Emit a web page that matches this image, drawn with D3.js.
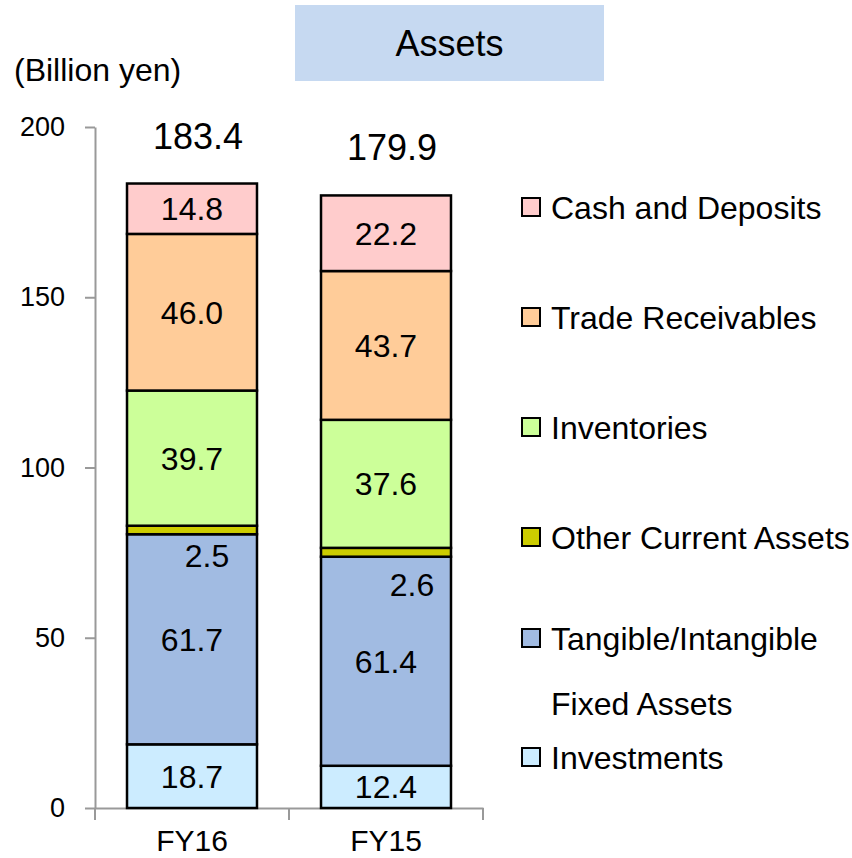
<!DOCTYPE html>
<html>
<head>
<meta charset="utf-8">
<script src="https://cdn.jsdelivr.net/npm/d3@7"></script>
<style>
  body { margin: 0; background: #fff; }
  svg { font-family: "Liberation Sans", Arial, sans-serif; }
  .axis path, .axis line { stroke: #999; stroke-width: 2; }
  .axis text { fill: #000; }
</style>
</head>
<body>
<svg id="chart" width="852" height="858"></svg>
<script>
// data (billion yen)
const categories = ["FY16", "FY15"]
const investments = [18.7, 12.4]
const tangible = [61.7, 61.4]
const otherCurrent = [2.5, 2.6]
const inventories = [39.7, 37.6]
const receivables = [46.0, 43.7]
const cash = [14.8, 22.2]
const totals = [183.4, 179.9]
const yTicks = [0, 50, 100, 150, 200]

// bottom -> top
const seriesNames = ["Investments", "Tangible/Intangible Fixed Assets", "Other Current Assets",
                     "Inventories", "Trade Receivables", "Cash and Deposits"]
const seriesValues = [investments, tangible, otherCurrent, inventories, receivables, cash]
const seriesColors = ["#CCECFF", "#A1BBE2", "#CCCC00", "#CCFF99", "#FFCC99", "#FFCCCC"]

let rows = categories.map((c, i) => {
  let r = {cat: c}
  seriesNames.forEach((n, j) => { r[n] = seriesValues[j][i] })
  return r
})

let stacked = d3.stack().keys(seriesNames)(rows)

let svg = d3.select("#chart")

let x = d3.scaleBand()
      .domain(categories)
      .range([95, 483])
      .paddingInner(0.33)
      .paddingOuter(0.165)

let y = d3.scaleLinear()
      .domain([0, 200])
      .range([808, 127])

// title box
svg.append("rect")
  .attr("x", 295).attr("y", 5)
  .attr("width", 309).attr("height", 76)
  .attr("fill", "#C6D9F1")
svg.append("text")
  .attr("x", 449.5).attr("y", 56)
  .attr("text-anchor", "middle")
  .style("font-size", "36px")
  .text("Assets")

// unit label
svg.append("text")
  .attr("x", 14).attr("y", 81)
  .style("font-size", "32px")
  .text("(Billion yen)")

// y axis
let yAxis = svg.append("g")
  .attr("class", "axis")
  .attr("transform", "translate(95,0)")
  .call(d3.axisLeft(y).tickValues(yTicks).tickSize(10).tickSizeOuter(0).tickPadding(20))
yAxis.selectAll("text").style("font-size", "27px")

// x axis
let xAxis = svg.append("g")
  .attr("class", "axis")
  .attr("transform", "translate(0,808)")
  .call(d3.axisBottom(x).tickSize(0).tickSizeOuter(0).tickPadding(22))
xAxis.selectAll("text").style("font-size", "30px")
xAxis.selectAll(".boundary")
  .data(d3.range(categories.length + 1))
  .enter().append("line")
  .attr("class", "boundary")
  .attr("x1", i => x.range()[0] + i * x.step())
  .attr("x2", i => x.range()[0] + i * x.step())
  .attr("y1", 0).attr("y2", 12)

// bars
let layers = svg.selectAll(".layer")
  .data(stacked)
  .enter().append("g")
  .attr("class", "layer")
  .attr("fill", (d, i) => seriesColors[i])

layers.selectAll("rect")
  .data(d => d)
  .enter().append("rect")
  .attr("x", d => x(d.data.cat))
  .attr("width", x.bandwidth())
  .attr("y", d => y(d[1]))
  .attr("height", d => y(d[0]) - y(d[1]))
  .attr("stroke", "#000")
  .attr("stroke-width", 2.5)

// segment labels (the thin one sits below its own segment)
const thinOffset = [{dx: 15, dy: 21}, {dx: 26, dy: 28}]
stacked.forEach((layer, j) => {
  layer.forEach((d, i) => {
    let cx = x(d.data.cat) + x.bandwidth() / 2
    let cy = (y(d[0]) + y(d[1])) / 2
    if (seriesNames[j] == "Other Current Assets") {
      cx += thinOffset[i].dx
      cy = y(d[0]) + thinOffset[i].dy
    }
    svg.append("text")
      .attr("x", cx).attr("y", cy)
      .attr("dy", "0.36em")
      .attr("text-anchor", "middle")
      .style("font-size", "32px")
      .text(d3.format(".1f")(d[1] - d[0]))
  })
})

// totals
svg.selectAll(".total")
  .data(categories)
  .enter().append("text")
  .attr("class", "total")
  .attr("x", c => x(c) + x.bandwidth() / 2 + 6)
  .attr("y", (c, i) => y(totals[i]) - 35)
  .attr("text-anchor", "middle")
  .style("font-size", "36px")
  .text((c, i) => d3.format(".1f")(totals[i]))

// legend, top entry first
let legendItems = seriesNames.slice().reverse()
let legendColors = seriesColors.slice().reverse()
let legend = svg.append("g").attr("transform", "translate(521,207)")
legendItems.forEach((name, i) => {
  let g = legend.append("g").attr("transform", "translate(0," + (i * 110) + ")")
  let lines = name == "Tangible/Intangible Fixed Assets" ? ["Tangible/Intangible", "Fixed Assets"] : [name]
  let y0 = lines.length > 1 ? -9 : 0
  g.append("rect")
    .attr("x", 1).attr("y", y0 - 9)
    .attr("width", 18).attr("height", 18)
    .attr("fill", legendColors[i])
    .attr("stroke", "#000")
    .attr("stroke-width", 2)
  lines.forEach((t, k) => {
    g.append("text")
      .attr("x", 30).attr("y", y0 + k * 65)
      .attr("dy", "0.36em")
      .style("font-size", "32px")
      .text(t)
  })
})
</script>
</body>
</html>
